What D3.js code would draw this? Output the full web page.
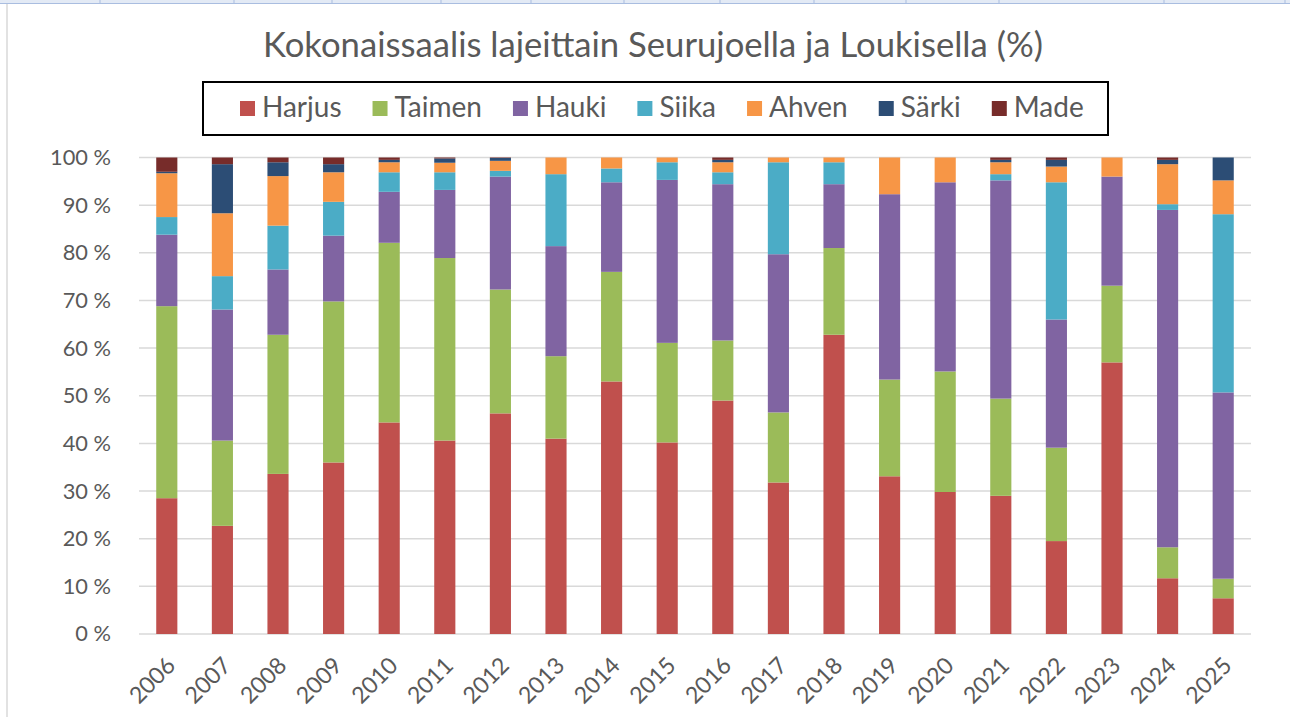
<!DOCTYPE html>
<html>
<head>
<meta charset="utf-8">
<script src="https://cdn.jsdelivr.net/npm/d3@7"></script>
<style>
  body { margin: 0; background: #fff; }
  svg { display: block; font-family: Lato, "Open Sans", sans-serif; }
</style>
</head>
<body>
<svg id="area" width="1290" height="717"></svg>
<script>
// data (percent of total catch)
const years  = ["2006","2007","2008","2009","2010","2011","2012","2013","2014","2015",
                "2016","2017","2018","2019","2020","2021","2022","2023","2024","2025"];
const harjus = [28.5,22.7,33.6,36.0,44.4,40.6,46.3,41.0,53.0,40.2,49.0,31.8,62.8,33.1,29.8,29.0,19.5,57.0,11.7,7.5];
const taimen = [40.3,17.9,29.2,33.8,37.7,38.3,26.0,17.3,23.0,20.9,12.6,14.7,18.2,20.3,25.3,20.4,19.6,16.1,6.5,4.1];
const hauki  = [15.0,27.5,13.7,13.8,10.7,14.3,23.7,23.1,18.8,34.2,32.8,33.2,13.4,38.9,39.7,45.8,26.9,22.9,70.8,39.1];
const siika  = [3.7,7.0,9.2,7.1,4.1,3.7,1.2,15.1,2.9,3.7,2.5,19.3,4.6,0,0,1.3,28.8,0,1.2,37.4];
const ahven  = [9.2,13.2,10.4,6.2,2.1,2.0,2.1,3.5,2.3,1.0,2.1,1.0,1.0,7.7,5.2,2.5,3.3,4.0,8.4,7.1];
const sarki  = [0.3,10.3,2.9,1.7,0.5,0.9,0.6,0,0,0,0.5,0,0,0,0,0.5,1.4,0,0.9,4.8];
const made   = [3.0,1.4,1.0,1.4,0.5,0.2,0.1,0,0,0,0.5,0,0,0,0,0.5,0.5,0,0.5,0];
const species = ["Harjus","Taimen","Hauki","Siika","Ahven","Särki","Made"];
const colors  = ["#c0504d","#9bbb59","#8064a2","#4bacc6","#f79646","#2c4d75","#772c2a"];
const yTicks  = [0,10,20,30,40,50,60,70,80,90,100];
const titleText = "Kokonaissaalis lajeittain Seurujoella ja Loukisella (%)";

const series = [harjus, taimen, hauki, siika, ahven, sarki, made];
const rows = years.map((y, i) => {
  const r = {year: y};
  species.forEach((s, k) => r[s] = series[k][i]);
  return r;
});

const svg = d3.select("#area");
const plot = {left: 139, right: 1251, top: 157.5, bottom: 634};

// fit a text to a wanted width by scaling its font size
function fitText(sel, width) {
  const w = sel.node().getComputedTextLength();
  const fs = parseFloat(sel.attr("font-size"));
  sel.attr("font-size", fs * width / w);
  return sel;
}

// screenshot frame bits
const sepX = [100,234,332,441,531,624,720,814,906,999,1164,1285];
svg.append("rect").attr("x",0).attr("y",0).attr("width",1290).attr("height",3).attr("fill","#e3eaf5");
svg.append("line").attr("x1",0).attr("x2",1290).attr("y1",3.5).attr("y2",3.5)
  .attr("stroke","#a9bde0").attr("stroke-width",1);
svg.selectAll(".sep").data(sepX).join("line")
  .attr("x1",d=>d).attr("x2",d=>d).attr("y1",0).attr("y2",4)
  .attr("stroke","#a9bde0");
svg.append("line").attr("x1",7).attr("x2",7).attr("y1",4).attr("y2",717)
  .attr("stroke","#d9d9d9").attr("stroke-width",1.5);

const x = d3.scaleBand().domain(years).range([plot.left, plot.right])
  .paddingInner(0.62).paddingOuter(0.31);
const y = d3.scaleLinear().domain([0,100]).range([plot.bottom, plot.top]);

// gridlines
svg.append("g").selectAll("line").data(yTicks).join("line")
  .attr("x1", plot.left).attr("x2", plot.right)
  .attr("y1", d => y(d)).attr("y2", d => y(d))
  .attr("stroke", "#d9d9d9").attr("stroke-width", 1.5);

// y labels
const yAxis = svg.append("g").attr("transform", "translate(111,0)")
  .call(d3.axisLeft(y).tickValues(yTicks).tickSize(0).tickPadding(0).tickFormat(d => d + " %"));
yAxis.select(".domain").remove();
yAxis.selectAll("text").attr("font-size", 21).attr("fill", "#595959")
  .attr("font-family", "Lato, sans-serif");
fitText(yAxis.selectAll("text").filter(d => d === 100), 61);
const yfs = yAxis.selectAll("text").filter(d => d === 100).attr("font-size");
yAxis.selectAll("text").attr("font-size", yfs);

// stacked bars
const stack = d3.stack().keys(species)(rows);
svg.append("g").selectAll("g").data(stack).join("g")
  .attr("fill", (d, i) => colors[i])
  .selectAll("rect").data(d => d).join("rect")
  .attr("x", d => x(d.data.year))
  .attr("width", x.bandwidth())
  .attr("y", d => y(d[1]))
  .attr("height", d => Math.max(0, y(d[0]) - y(d[1])));

// x labels
const xAxis = svg.append("g").attr("transform", `translate(0,${plot.bottom})`)
  .call(d3.axisBottom(x).tickSize(0).tickPadding(0));
xAxis.select(".domain").remove();
xAxis.selectAll("text")
  .attr("font-size", yfs * 1.06).attr("fill", "#595959").attr("font-family", "Lato, sans-serif")
  .attr("text-anchor", "end").attr("dy", null).attr("y", 0)
  .attr("transform", "translate(10,33) rotate(-45)");

// title
const title = svg.append("text").attr("x", 653).attr("y", 57)
  .attr("text-anchor", "middle").attr("font-size", 30).attr("fill", "#595959")
  .text(titleText);
fitText(title, 780);

// legend
svg.append("rect").attr("x", 203).attr("y", 82).attr("width", 905).attr("height", 53)
  .attr("fill", "none").attr("stroke", "#000").attr("stroke-width", 2);
const leg = svg.append("g");
const items = leg.selectAll("g").data(species).join("g");
const labels = items.append("text").attr("y", 117).attr("font-size", 24)
  .attr("fill", "#595959").text(d => d);
const sw = 15, gapTxt = 7;
// scale font so that the row spans swatch start 240 to text end 1084
let widths = labels.nodes().map(n => n.getComputedTextLength());
const targetGap = 31;
const k = (1084 - 240 - species.length * (sw + gapTxt) - (species.length - 1) * targetGap) / d3.sum(widths);
labels.attr("font-size", 24 * k);
widths = labels.nodes().map(n => n.getComputedTextLength());
let cx = 240;
items.each(function(d, i) {
  const g = d3.select(this);
  g.insert("rect", "text").attr("x", cx).attr("y", 101).attr("width", sw).attr("height", sw)
    .attr("fill", colors[i]);
  g.select("text").attr("x", cx + sw + gapTxt);
  cx += sw + gapTxt + widths[i] + targetGap;
});
</script>
</body>
</html>
